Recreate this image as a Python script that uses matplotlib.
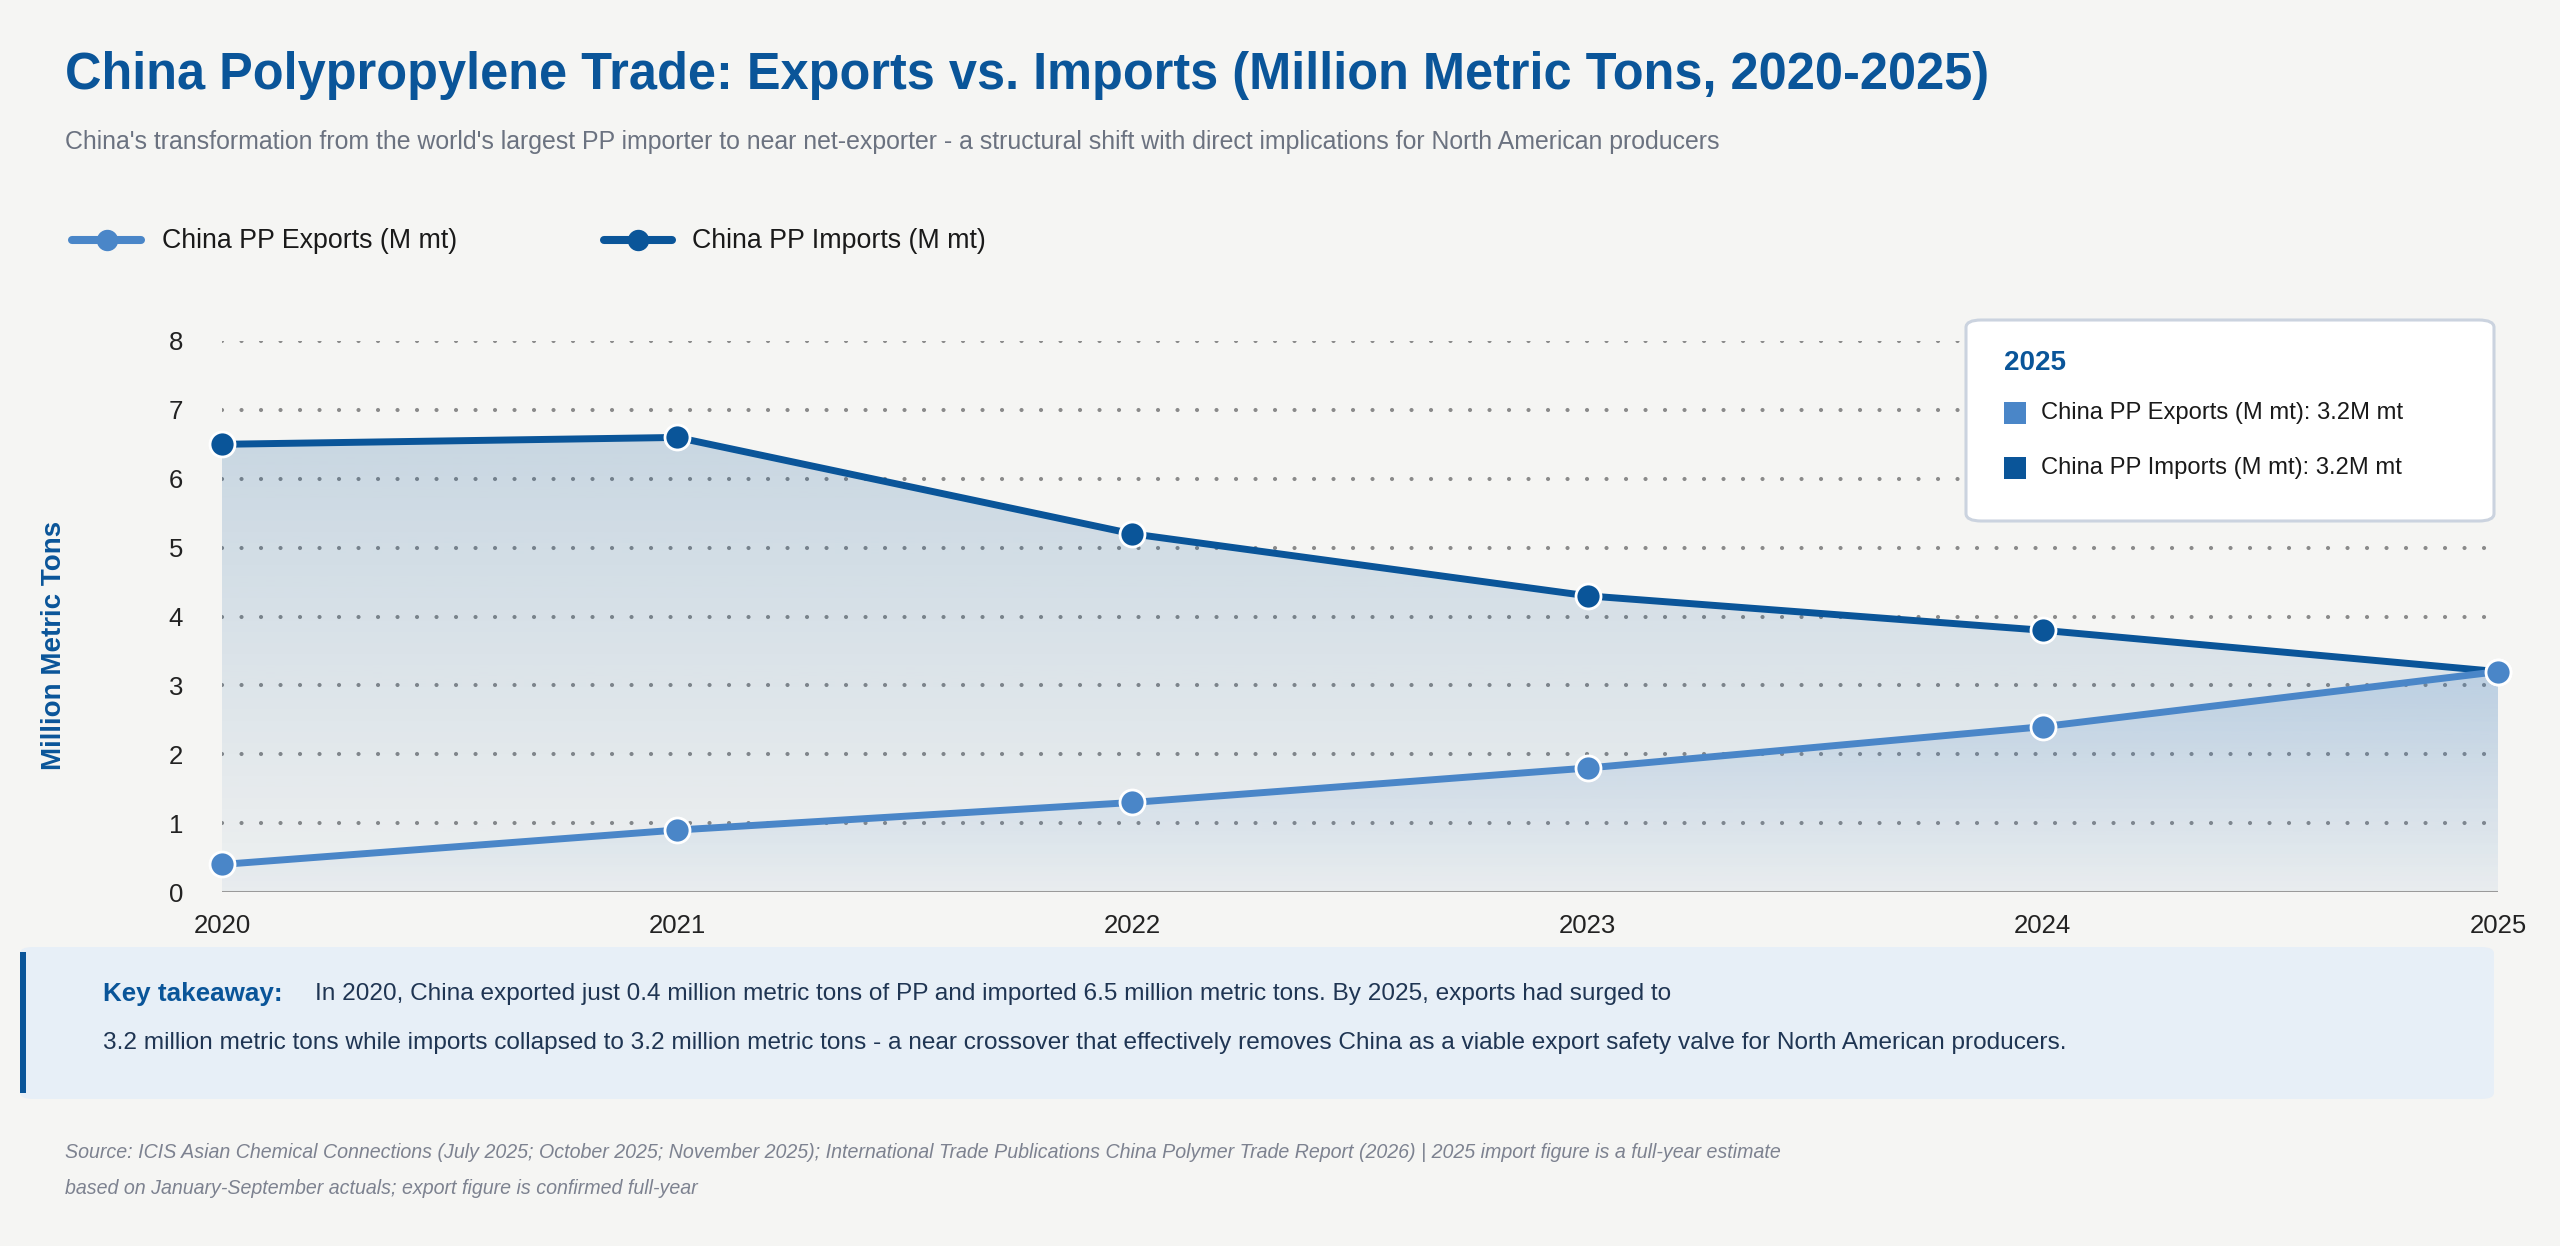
import numpy as np
import matplotlib
matplotlib.use('Agg')
import matplotlib.pyplot as plt
import matplotlib.colors as mcolors
from matplotlib.patches import FancyBboxPatch, Rectangle
from matplotlib.lines import Line2D

plt.rcParams['font.family'] = ['Liberation Sans', 'DejaVu Sans']

# data
years = [2020, 2021, 2022, 2023, 2024, 2025]
exports = [0.4, 0.9, 1.3, 1.8, 2.4, 3.2]
imports = [6.5, 6.6, 5.2, 4.3, 3.8, 3.2]
export_label = 'China PP Exports (M mt)'
import_label = 'China PP Imports (M mt)'
y_ticks = [0, 1, 2, 3, 4, 5, 6, 7, 8]

title = 'China Polypropylene Trade: Exports vs. Imports (Million Metric Tons, 2020-2025)'
subtitle = ("China's transformation from the world's largest PP importer to near net-exporter - "
            "a structural shift with direct implications for North American producers")
takeaway_1 = ('In 2020, China exported just 0.4 million metric tons of PP and imported 6.5 million '
              'metric tons. By 2025, exports had surged to')
takeaway_2 = ('3.2 million metric tons while imports collapsed to 3.2 million metric tons - a near '
              'crossover that effectively removes China as a viable export safety valve for North American producers.')
source_1 = ('Source: ICIS Asian Chemical Connections (July 2025; October 2025; November 2025); '
            'International Trade Publications China Polymer Trade Report (2026) | 2025 import figure is a full-year estimate')
source_2 = 'based on January-September actuals; export figure is confirmed full-year'

c_exp = '#4a86c8'
c_imp = '#0a5599'
bg = '#f5f5f3'
W, H = 2560, 1246


def fx(px):
    return px / W


def fy(py):
    return 1 - py / H


def gradient_fill(ax, x, y, color, a_top, a_bot, z):
    poly = ax.fill_between(x, y, 0, facecolor='none', edgecolor='none')
    grad = np.zeros((256, 1, 4))
    grad[:, :, :3] = mcolors.to_rgb(color)
    grad[:, 0, 3] = np.linspace(a_top, a_bot, 256)
    im = ax.imshow(grad, aspect='auto', origin='upper', zorder=z,
                   extent=[x[0], x[-1], 0, max(y)], interpolation='bilinear')
    im.set_clip_path(poly.get_paths()[0], transform=ax.transData)


fig = plt.figure(figsize=(25.6, 12.46), dpi=100, facecolor=bg)
ax = fig.add_axes([fx(222), fy(892), fx(2498) - fx(222), fy(341) - fy(892)])
ax.set_facecolor('none')

gradient_fill(ax, years, imports, c_imp, 0.19, 0.03, 1)
gradient_fill(ax, years, exports, c_exp, 0.22, 0.03, 1.1)

for v in y_ticks[1:]:
    ax.axhline(v, color='#8a8a8a', lw=3.0, linestyle=(0, (0.01, 4.67)),
               dash_capstyle='round', zorder=0.5)
ax.axhline(0, color='#9a9a9a', lw=2.2, zorder=2)

ax.plot(years, imports, color=c_imp, lw=5, marker='o', ms=18, mfc=c_imp,
        mec='white', mew=2, zorder=4, clip_on=False)
ax.plot(years, exports, color=c_exp, lw=5, marker='o', ms=18, mfc=c_exp,
        mec='white', mew=2, zorder=5, clip_on=False)

ax.set_xlim(2020, 2025)
ax.set_ylim(0, 8)
ax.set_xticks(years)
ax.set_xticklabels([str(y) for y in years])
ax.set_yticks(y_ticks)
ax.tick_params(length=0, labelsize=18.5, labelcolor='#222222')
ax.tick_params(axis='y', pad=28)
ax.tick_params(axis='x', pad=16)
for s in ax.spines.values():
    s.set_visible(False)

fig.text(fx(54), fy(645), 'Million Metric Tons', rotation=90, fontsize=20,
         fontweight='bold', color=c_imp, ha='center', va='center')

# header
fig.text(fx(65), fy(76), title, fontsize=36.4, fontweight='bold', color=c_imp,
         ha='left', va='center')
fig.text(fx(65), fy(142), subtitle, fontsize=17.9, color='#6b7280',
         ha='left', va='center')

# legend row
for x0, x1, xt, col, lab in [(72, 141, 162, c_exp, export_label),
                             (604, 672, 692, c_imp, import_label)]:
    fig.add_artist(Line2D([fx(x0), fx(x1)], [fy(240), fy(240)], color=col, lw=5.8,
                          solid_capstyle='round'))
    fig.add_artist(Line2D([fx((x0 + x1) / 2)], [fy(240)], marker='o', ms=14.4,
                          color=col, mec=col))
    fig.text(fx(xt), fy(241), lab, fontsize=19.3, color='#1a1a1a', ha='left', va='center')

# tooltip box
tip = FancyBboxPatch((fx(1966), fy(521)), fx(2494) - fx(1966), fy(320) - fy(521),
                     boxstyle='round,pad=0,rounding_size=0.006', transform=fig.transFigure,
                     facecolor='white', edgecolor='#cbd3df', lw=2.2, zorder=10)
fig.add_artist(tip)
fig.text(fx(2004), fy(363), '2025', fontsize=20, fontweight='bold', color=c_imp,
         ha='left', va='center', zorder=11)
for yy, col, lab, val in [(413, c_exp, export_label, exports[-1]),
                          (468, c_imp, import_label, imports[-1])]:
    fig.add_artist(Rectangle((fx(2004), fy(yy + 11)), fx(22), 22 / H, transform=fig.transFigure,
                             facecolor=col, edgecolor='none', zorder=11))
    fig.text(fx(2041), fy(yy), f'{lab}: {val}M mt', fontsize=17.1, color='#1a1a1a',
             ha='left', va='center', zorder=11)

# key takeaway box
box = FancyBboxPatch((fx(20), fy(1099)), fx(2494) - fx(20), fy(947) - fy(1099),
                     boxstyle='round,pad=0,rounding_size=0.005', transform=fig.transFigure,
                     facecolor='#e7eff7', edgecolor='none', zorder=1)
fig.add_artist(box)
fig.add_artist(Rectangle((fx(20), fy(1093)), fx(6), (1093 - 952) / H, transform=fig.transFigure,
                         facecolor=c_imp, edgecolor='none', zorder=2))
fig.text(fx(103), fy(994), 'Key takeaway:', fontsize=18.7, fontweight='bold', color=c_imp,
         ha='left', va='center', zorder=3)
fig.text(fx(315), fy(994), takeaway_1, fontsize=17.6, color='#1f3553',
         ha='left', va='center', zorder=3)
fig.text(fx(103), fy(1043), takeaway_2, fontsize=17.6, color='#1f3553',
         ha='left', va='center', zorder=3)

fig.text(fx(65), fy(1152), source_1, fontsize=14.1, style='italic', color='#7d8290',
         ha='left', va='center')
fig.text(fx(65), fy(1188), source_2, fontsize=14.1, style='italic', color='#7d8290',
         ha='left', va='center')

fig.savefig('out.png', dpi=100, facecolor=bg)
